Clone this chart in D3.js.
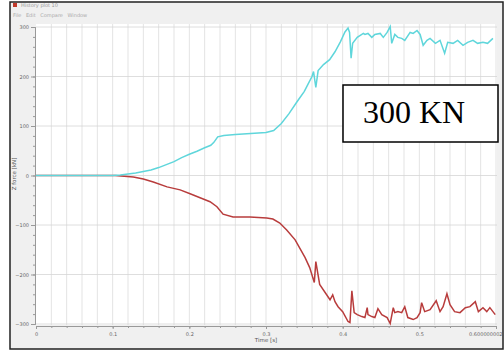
<!DOCTYPE html>
<html>
<head>
<meta charset="utf-8">
<script src="https://cdn.jsdelivr.net/npm/d3@7"></script>
<style>
  html, body { margin: 0; padding: 0; background: #fff; }
  svg { display: block; }
  .axis text { font-family: "DejaVu Sans", sans-serif; font-size: 5px; fill: #666; }
  .axis path, .axis line { stroke: #999; }
</style>
</head>
<body>
<div id="chart"></div>
<script>
// Z force history, two series (kN vs s)
const cyanT = [0, 0.1, 0.11, 0.12, 0.13, 0.14, 0.15, 0.16, 0.17, 0.18, 0.19, 0.20, 0.21, 0.22, 0.228, 0.232, 0.237, 0.245, 0.26, 0.28, 0.30, 0.31, 0.32, 0.33, 0.34, 0.35, 0.355, 0.36, 0.362, 0.365, 0.368, 0.375, 0.383, 0.39, 0.397, 0.403, 0.407, 0.409, 0.411, 0.413, 0.419, 0.425, 0.427, 0.429, 0.433, 0.438, 0.442, 0.449, 0.453, 0.458, 0.462, 0.464, 0.468, 0.472, 0.477, 0.481, 0.488, 0.492, 0.497, 0.501, 0.505, 0.51, 0.514, 0.521, 0.527, 0.533, 0.537, 0.544, 0.55, 0.557, 0.563, 0.57, 0.576, 0.583, 0.589, 0.596];
const cyanV = [0, 0, 1, 3, 5, 8, 11, 16, 22, 28, 36, 43, 49, 56, 61, 67, 78, 81, 83, 85, 87, 91, 105, 125, 148, 170, 185, 200, 210, 178, 212, 224, 234, 250, 270, 290, 298, 289, 237, 267, 279, 285, 287, 285, 287, 279, 285, 287, 279, 289, 301, 267, 285, 279, 277, 273, 289, 287, 293, 285, 263, 273, 277, 267, 273, 247, 269, 267, 273, 263, 269, 273, 267, 269, 267, 277];

const redT = [0, 0.1, 0.103, 0.127, 0.14, 0.153, 0.171, 0.188, 0.201, 0.214, 0.227, 0.236, 0.244, 0.257, 0.279, 0.301, 0.309, 0.318, 0.327, 0.338, 0.351, 0.357, 0.363, 0.365, 0.37, 0.3835, 0.387, 0.39, 0.394, 0.4, 0.407, 0.4095, 0.412, 0.415, 0.419, 0.425, 0.429, 0.432, 0.433, 0.438, 0.442, 0.446, 0.451, 0.458, 0.462, 0.466, 0.468, 0.472, 0.477, 0.481, 0.485, 0.492, 0.497, 0.501, 0.503, 0.507, 0.514, 0.522, 0.527, 0.531, 0.536, 0.54, 0.546, 0.553, 0.56, 0.566, 0.573, 0.577, 0.583, 0.588, 0.592, 0.599];
const redV = [0, 0, 0, -3, -7, -13, -23, -29, -37, -45, -53, -63, -78, -84, -84, -86, -88, -96, -110, -130, -166, -186, -216, -174, -220, -251, -241, -255, -265, -275, -295, -297, -233, -277, -281, -285, -287, -267, -281, -285, -287, -269, -281, -287, -299, -267, -277, -275, -277, -265, -287, -291, -287, -277, -257, -275, -271, -253, -275, -265, -239, -261, -275, -277, -267, -265, -255, -275, -267, -275, -267, -281];

const xTicks = [0, 0.1, 0.2, 0.3, 0.4, 0.5, 0.6];
const xTickLabels = ["0", "0.1", "0.2", "0.3", "0.4", "0.5", "0.600000002"];
const yTicks = [-300, -200, -100, 0, 100, 200, 300];

const width = 504, height = 356;
const plot = { left: 36, right: 497, top: 24, bottom: 325 };

const svg = d3.select("#chart").append("svg")
    .attr("width", width)
    .attr("height", height);

// window frame
svg.append("rect")
    .attr("x", 10).attr("y", 2)
    .attr("width", 493).attr("height", 347)
    .attr("fill", "#f0f0f0")
    .attr("stroke", "#222").attr("stroke-width", 1.5);

svg.append("rect")
    .attr("x", 13).attr("y", 3)
    .attr("width", 4).attr("height", 4)
    .attr("fill", "#c0392b");
svg.append("text")
    .attr("x", 21).attr("y", 7)
    .attr("font-family", "DejaVu Sans, sans-serif")
    .attr("font-size", 5).attr("fill", "#999")
    .text("History plot 10");
svg.append("text")
    .attr("x", 13).attr("y", 17)
    .attr("font-family", "DejaVu Sans, sans-serif")
    .attr("font-size", 5).attr("fill", "#aaa")
    .attr("word-spacing", 3)
    .text("File Edit Compare Window");

const x = d3.scaleLinear().domain([0, 0.6]).range([36, 496]);
const y = d3.scaleLinear().domain([-300, 300]).range([324, 27]);

svg.append("rect")
    .attr("x", plot.left).attr("y", plot.top)
    .attr("width", plot.right - plot.left).attr("height", plot.bottom - plot.top)
    .attr("fill", "#fff");

// grid
svg.append("g").selectAll("line")
    .data(d3.range(1, 31).map(i => i * 0.02))
    .enter().append("line")
    .attr("x1", d => x(d)).attr("x2", d => x(d))
    .attr("y1", plot.top).attr("y2", plot.bottom)
    .attr("stroke", "#dcdcdc").attr("stroke-width", 0.8);

svg.append("g").selectAll("line")
    .data(yTicks)
    .enter().append("line")
    .attr("x1", plot.left).attr("x2", plot.right)
    .attr("y1", d => y(d)).attr("y2", d => y(d))
    .attr("stroke", "#d6d6d6").attr("stroke-width", 0.8);

// axes
svg.append("g")
    .attr("class", "axis")
    .attr("transform", "translate(35,0)")
    .call(d3.axisLeft(y).tickValues(d3.range(-300, 301, 20)).tickSize(2).tickFormat(""));
svg.append("g")
    .attr("class", "axis")
    .attr("transform", "translate(35,0)")
    .call(d3.axisLeft(y).tickValues(yTicks).tickSize(4).tickPadding(2));

svg.append("g")
    .attr("class", "axis")
    .attr("transform", "translate(0,326)")
    .call(d3.axisBottom(x).tickValues(d3.range(0, 31).map(i => i * 0.02)).tickSize(2).tickFormat(""));
const xAxisG = svg.append("g")
    .attr("class", "axis")
    .attr("transform", "translate(0,326)")
    .call(d3.axisBottom(x).tickValues(xTicks).tickSize(3).tickPadding(3)
        .tickFormat((d, i) => xTickLabels[i]));
// last label sits flush against the right edge
xAxisG.selectAll(".tick text")
    .filter(d => d === 0.6)
    .attr("text-anchor", "end")
    .attr("dx", 6);

svg.append("text")
    .attr("x", 266).attr("y", 342)
    .attr("text-anchor", "middle")
    .attr("font-family", "DejaVu Sans, sans-serif")
    .attr("font-size", 5.5).attr("fill", "#555")
    .text("Time [s]");

svg.append("text")
    .attr("transform", "translate(16,174) rotate(-90)")
    .attr("text-anchor", "middle")
    .attr("font-family", "DejaVu Sans, sans-serif")
    .attr("font-size", 5.5).attr("fill", "#555")
    .text("Z force [kN]");

// series
const line = d3.line()
    .x(d => x(d[0]))
    .y(d => y(d[1]));

svg.append("path")
    .datum(redT.map((t, i) => [t, redV[i]]))
    .attr("fill", "none")
    .attr("stroke", "#b83c3c")
    .attr("stroke-width", 1.5)
    .attr("d", line);

svg.append("path")
    .datum(cyanT.map((t, i) => [t, cyanV[i]]))
    .attr("fill", "none")
    .attr("stroke", "#5fd6db")
    .attr("stroke-width", 1.5)
    .attr("d", line);

// annotation box
svg.append("rect")
    .attr("x", 343).attr("y", 85)
    .attr("width", 155).attr("height", 57)
    .attr("fill", "#fff")
    .attr("stroke", "#000").attr("stroke-width", 1.5);
svg.append("text")
    .attr("x", 414).attr("y", 123)
    .attr("text-anchor", "middle")
    .attr("font-family", "Liberation Serif, Times New Roman, serif")
    .attr("font-size", 32)
    .attr("fill", "#000")
    .text("300 KN");
</script>
</body>
</html>
